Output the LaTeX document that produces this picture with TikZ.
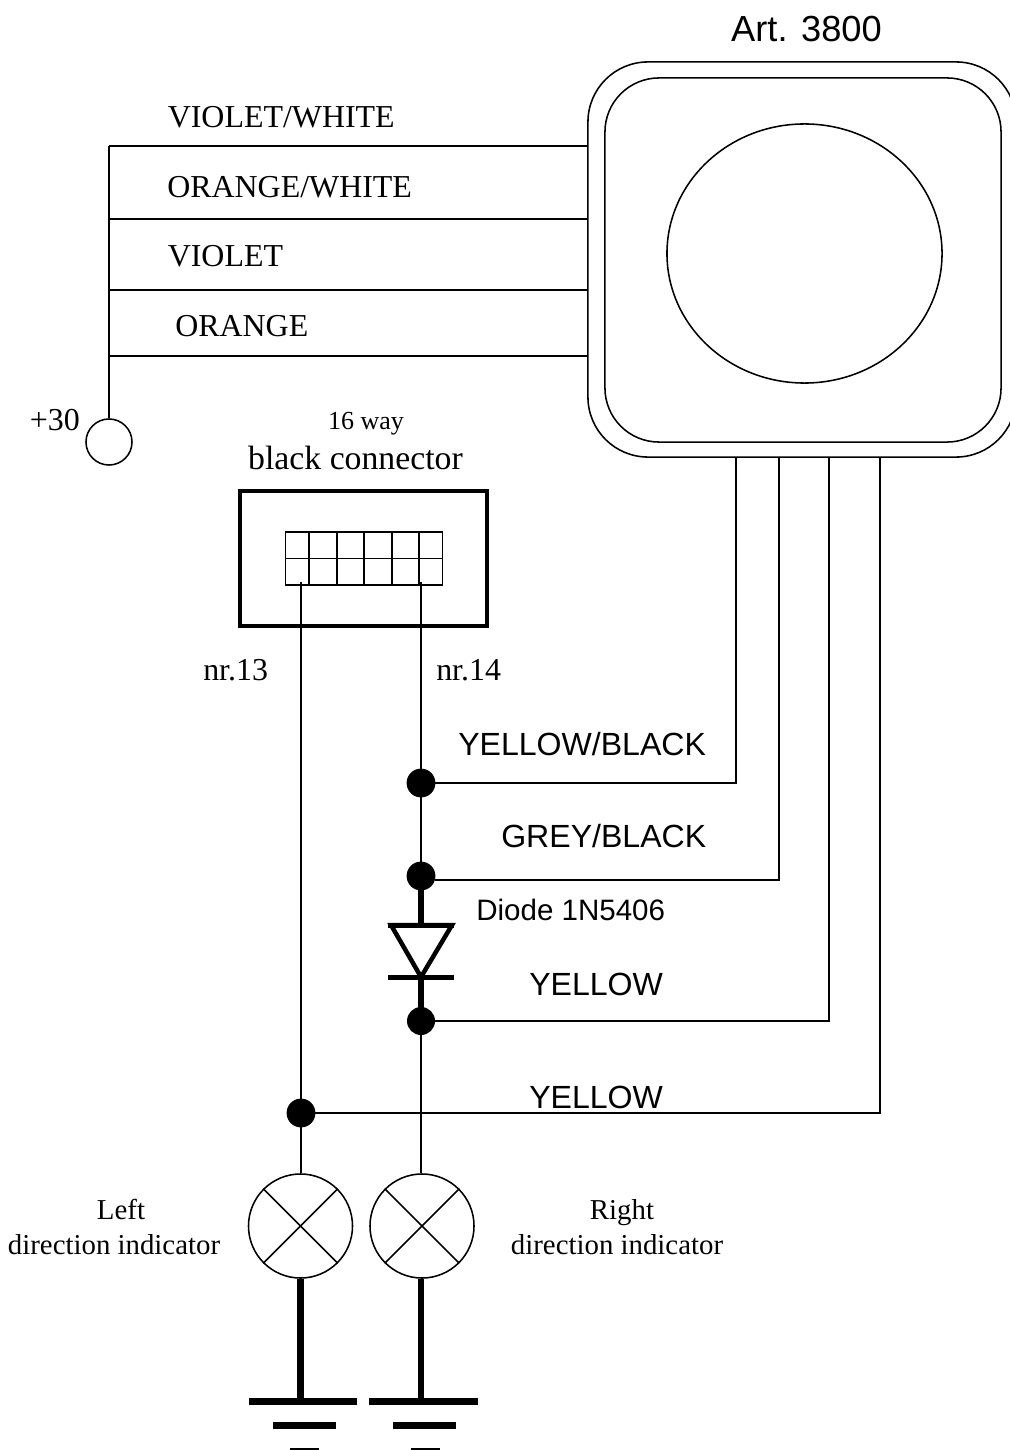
\documentclass[tikz,border=0pt]{standalone}
\usepackage{fontspec}
\setmainfont{Liberation Serif}
\setsansfont{Liberation Sans}
\usetikzlibrary{shapes.geometric}
\tikzstyle{wire} = [line width=1.1pt,draw=black]
\tikzstyle{heavy} = [line width=4.3pt,draw=black]
\tikzstyle{dot} = [circle,fill=black,inner sep=0pt,outer sep=0pt,minimum size=0.72cm]
\tikzstyle{lamp} = [circle,wire,inner sep=0pt,minimum size=2.6cm]
\tikzstyle{bar} = [rectangle,fill=black,inner sep=0pt,outer sep=0pt,minimum height=0.175cm]
\tikzstyle{rim} = [rectangle,wire,inner sep=0pt,outer sep=0pt]
\tikzstyle{serif} = [inner sep=0pt,font=\fontsize{22.7}{26}\selectfont]
\tikzstyle{sans} = [inner sep=0pt,font=\sffamily\fontsize{22.8}{26}\selectfont]
\tikzstyle{small} = [inner sep=0pt,anchor=base,font=\fontsize{20.5}{24}\selectfont]

\begin{document}
\begin{tikzpicture}[x=0.025cm,y=-0.025cm]
 \useasboundingbox (0,0) rectangle (1010,1450);
 \clip (0,0) rectangle (1010,1450);
 % unit
 \node (UO) [rim,minimum width=10.7cm,minimum height=9.875cm,rounded corners=1.5cm] at (802,259.5) {};
 \node (UI) [rim,minimum width=9.9cm,minimum height=9.1cm,rounded corners=1.35cm] at (803,260) {};
 \node (UC) [ellipse,wire,inner sep=0pt,minimum width=6.875cm,minimum height=6.475cm] at (804.5,253.5) {};
 \node (AR) [sans,font=\sffamily\fontsize{25.8}{30}\selectfont] at (806.5,29) {Art. 3800};
 % supply side
 \node (PL) [circle,wire,inner sep=0pt,minimum size=1.15cm] at (109,442) {};
 \node (PT) [serif,anchor=east] at (80,420) {+30};
 \coordinate (B1) at (109,146);
 \coordinate (B2) at (109,219);
 \coordinate (B3) at (109,290);
 \coordinate (B4) at (109,356);
 \draw [wire] (B1) -- (PL);
 \foreach \b in {B1,B2,B3,B4}
  \draw [wire] (\b) -- (\b -| UO.west);
 \node (VW) [serif,anchor=west] at (167.5,117) {VIOLET/WHITE};
 \node (OW) [serif,anchor=west] at (167,187) {ORANGE/WHITE};
 \node (VI) [serif,anchor=west] at (167.5,256) {VIOLET};
 \node (OR) [serif,anchor=west] at (175,326) {ORANGE};
 % 16 way connector
 \node (WY) [serif,font=\fontsize{18.5}{22}\selectfont] at (366,424) {16 way};
 \node (BC) [serif,font=\fontsize{24}{28}\selectfont] at (355.5,458) {black connector};
 \node (CN) [rim,line width=2.7pt,minimum width=6.175cm,minimum height=3.375cm] at (363.5,558.5) {};
 \node (GR) [rim,line width=1pt,minimum width=3.925cm,minimum height=1.325cm] at (364,558.5) {};
 \draw [wire,line width=1pt] (GR.west) -- (GR.east);
 \foreach \x in {309,337,364,392,419}
  \draw [wire,line width=1pt] (\x,532) -- (\x,585);
 \coordinate (P1) at (301,582);
 \coordinate (P2) at (421,582);
 \node (NA) [serif,anchor=west] at (203,670) {nr.13};
 \node (NB) [serif,anchor=west] at (436,670) {nr.14};
 % junctions
 \node (J1) [dot] at (421,783) {};
 \node (J2) [dot] at (421,876) {};
 \node (J3) [dot,minimum size=0.7cm] at (421,1021) {};
 \node (J4) [dot] at (301,1113) {};
 % lamps
 \node (LL) [lamp] at (300.5,1226) {};
 \node (LR) [lamp] at (422,1226) {};
 \foreach \l in {LL,LR} {
  \draw [wire] (\l.north west) -- (\l.south east);
  \draw [wire] (\l.north east) -- (\l.south west);
 }
 % diode
 \coordinate (DT) at (421,925);
 \coordinate (DE) at (421,977);
 \draw [line width=3.2pt,line join=miter] (DT -| 391,0) -- (DE) -- (DT -| 452,0) -- cycle;
 \node (DA) [bar,minimum width=1.625cm,minimum height=0.125cm] at (DT) {};
 \node (DB) [bar,minimum width=1.625cm,minimum height=0.125cm] at (DE) {};
 % wires
 \draw [wire] (P1) -- (J4);
 \draw [wire] (J4) -- (J4 |- LL.north);
 \draw [wire] (P2) -- (J1);
 \draw [wire] (J1) -- (J2);
 \draw [heavy] (J2.center) -- (DA.center);
 \draw [heavy] (DB.center) -- (J3.center);
 \draw [wire] (J3) -- (J3 |- LR.north);
 \coordinate (O1) at (736,457);
 \coordinate (O2) at (779,457);
 \coordinate (O3) at (829,457);
 \coordinate (O4) at (880,457);
 \draw [wire] (J1) -| (O1);
 \draw [wire] (J2.-15) -| (O2);
 \draw [wire] (J3) -| (O3);
 \draw [wire] (J4) -| (O4);
 \node (YB) [sans,anchor=west] at (458,744) {YELLOW/BLACK};
 \node (GB) [sans,anchor=west] at (501,836) {GREY/BLACK};
 \node (DI) [sans,font=\sffamily\fontsize{21}{24}\selectfont,anchor=west] at (476,910) {Diode 1N5406};
 \node (YA) [sans,anchor=west] at (529,984) {YELLOW};
 \node (YC) [sans,anchor=west] at (529,1097) {YELLOW};
 % lamp labels
 \node (TL) [small] at (121,1219) {Left};
 \node (TD) [small] at (114,1254) {direction indicator};
 \node (TR) [small] at (622,1219) {Right};
 \node (TE) [small] at (617,1254) {direction indicator};
 % grounds
 \node (GA) [bar,minimum width=2.7cm] at (303,1401.5) {};
 \node (GC) [bar,minimum width=1.575cm] at (304.5,1425.5) {};
 \node (GE) [bar,minimum width=0.725cm] at (304.5,1451) {};
 \node (HA) [bar,minimum width=2.725cm] at (423.5,1401.5) {};
 \node (HC) [bar,minimum width=1.575cm] at (424.5,1425.5) {};
 \node (HE) [bar,minimum width=0.725cm] at (425.5,1451) {};
 \draw [heavy] (LL.south) -- (LL.south |- GA.north);
 \draw [heavy] (LR.south -| J3) -- (J3 |- HA.north);
\end{tikzpicture}
\end{document}
